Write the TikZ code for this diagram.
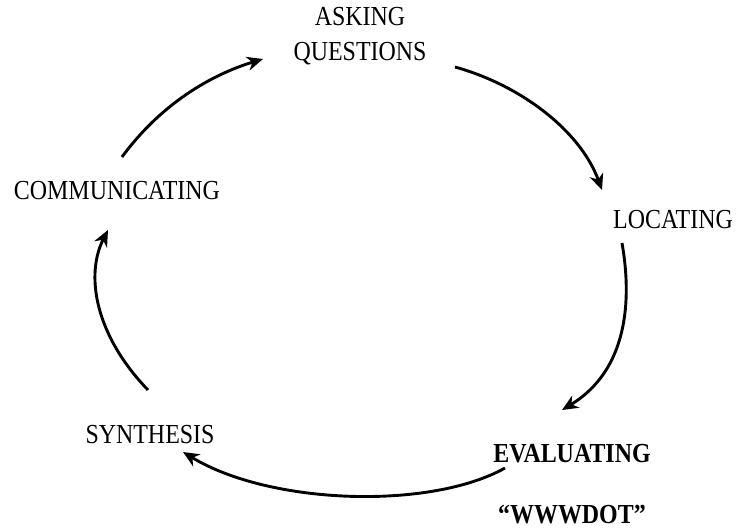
\documentclass[tikz,border=0pt]{standalone}
\usepackage{fontspec}
\newfontfamily\lblfont{Liberation Serif}[FakeStretch=0.87]
\usetikzlibrary{arrows.meta,calc}
\tikzset{
  lbl/.style={inner sep=0pt, anchor=base, font=\lblfont\fontsize{27.5}{32}\selectfont},
  boldlbl/.style={lbl, font=\lblfont\bfseries\fontsize{27.5}{32}\selectfont},
  cyc/.style={line width=2.9pt, -{Stealth[length=16pt,width=14pt,inset=5pt]}}
}
\begin{document}
\begin{tikzpicture}[x=1pt,y=-1pt]
\path[use as bounding box] (0,0) rectangle (736,528);

% stage labels
\node[lbl] (ask1) at (360,25) {ASKING};
\node[lbl] (ask2) at (360,60) {QUESTIONS};
\node[lbl] (loc)  at (673,228) {LOCATING};
\node[boldlbl] (eval) at (572,462) {EVALUATING};
\node[boldlbl] (www)  at (572,523) {“WWWDOT”};
\node[lbl] (syn)  at (150,443) {SYNTHESIS};
\node[lbl] (comm) at (117,199) {COMMUNICATING};

% cycle arrows
\draw[cyc] ($(comm.base)+(5,-42)$) .. controls (160,105) and (210,75) .. ($(ask2.base)+(-97,-1)$);
\draw[cyc] ($(ask2.base)+(95,7)$) .. controls (520,85) and (580,130) .. ($(loc.base)+(-71,-38)$);
\draw[cyc] ($(loc.base)+(-51,15)$) .. controls (632,300) and (628,370) .. ($(eval.base)+(-10,-52)$);
\draw[cyc] ($(eval.base)+(-67,6)$) .. controls (430,510) and (270,505) .. ($(syn.base)+(33,9)$);
\draw[cyc] ($(syn.base)+(-2,-53)$) .. controls (95,335) and (85,275) .. ($(comm.base)+(-9,31)$);
\end{tikzpicture}
\end{document}
